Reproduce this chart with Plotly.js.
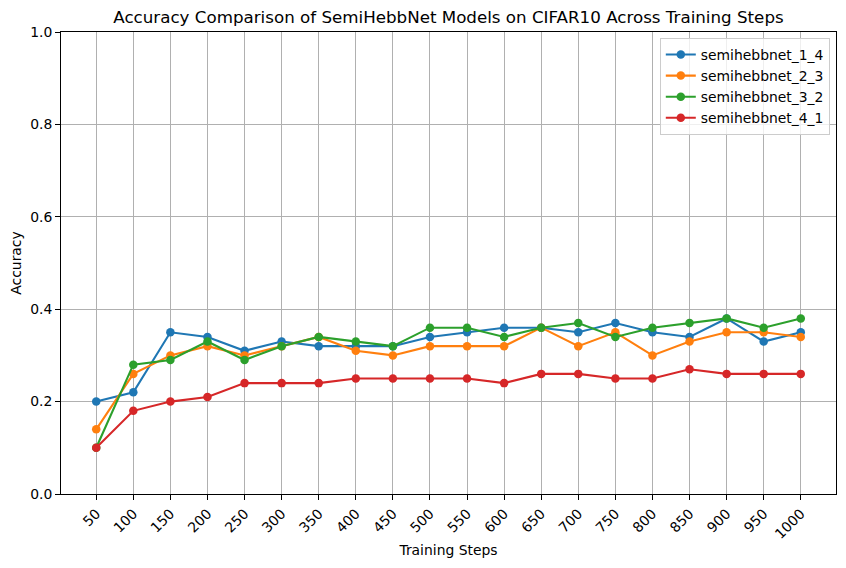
<!DOCTYPE html>
<html>
<head>
<meta charset="utf-8">
<script src="https://cdn.plot.ly/plotly-3.0.1.min.js"></script>
<style>html,body{margin:0;padding:0;background:#fff;}#chart{width:846px;height:568px;}</style>
</head>
<body>
<div id="chart"></div>
<script>
const steps = [50,100,150,200,250,300,350,400,450,500,550,600,650,700,750,800,850,900,950,1000];
const semihebbnet_1_4 = [0.20,0.22,0.35,0.34,0.31,0.33,0.32,0.32,0.32,0.34,0.35,0.36,0.36,0.35,0.37,0.35,0.34,0.38,0.33,0.35];
const semihebbnet_2_3 = [0.14,0.26,0.30,0.32,0.30,0.32,0.34,0.31,0.30,0.32,0.32,0.32,0.36,0.32,0.35,0.30,0.33,0.35,0.35,0.34];
const semihebbnet_3_2 = [0.10,0.28,0.29,0.33,0.29,0.32,0.34,0.33,0.32,0.36,0.36,0.34,0.36,0.37,0.34,0.36,0.37,0.38,0.36,0.38];
const semihebbnet_4_1 = [0.10,0.18,0.20,0.21,0.24,0.24,0.24,0.25,0.25,0.25,0.25,0.24,0.26,0.26,0.25,0.25,0.27,0.26,0.26,0.26];
const seriesNames = ['semihebbnet_1_4','semihebbnet_2_3','semihebbnet_3_2','semihebbnet_4_1'];
const seriesValues = [semihebbnet_1_4, semihebbnet_2_3, semihebbnet_3_2, semihebbnet_4_1];
const colors = ['#1f77b4','#ff7f0e','#2ca02c','#d62728'];
const yTicks = [0,0.2,0.4,0.6,0.8,1.0];

const font = 'DejaVu Sans, sans-serif';
const traces = seriesNames.map((n,i)=>({
  x: steps, y: seriesValues[i], name: n, type: 'scatter', mode: 'lines+markers',
  line: {color: colors[i], width: 2.1},
  marker: {color: colors[i], size: 8.5}
}));

const layout = {
  width: 846, height: 568,
  margin: {l: 61, r: 10, t: 32, b: 74},
  paper_bgcolor: '#fff', plot_bgcolor: '#fff',
  font: {family: font, size: 13.9, color: '#000'},
  title: {text: 'Accuracy Comparison of SemiHebbNet Models on CIFAR10 Across Training Steps',
          font: {family: font, size: 16.7, color: '#000'}, x: 0.5, xanchor: 'center', y: 1 - 17/568, yanchor: 'middle', xref: 'paper'},
  xaxis: {
    range: [2.5, 1047.5], tickmode: 'array', tickvals: steps, ticktext: steps.map(String),
    tickangle: -45, ticks: 'outside', ticklen: 5, tickcolor: '#000', tickwidth: 1,
    showgrid: true, gridcolor: '#b0b0b0', gridwidth: 1,
    showline: true, linecolor: '#000', linewidth: 1, mirror: true, zeroline: false,
    tickfont: {family: font, size: 13.9, color: '#000'},
    title: {text: 'Training Steps', font: {family: font, size: 13.9, color: '#000'}, standoff: 4}
  },
  yaxis: {
    range: [0, 1], tickmode: 'array', tickvals: yTicks, ticktext: yTicks.map(v=>v.toFixed(1)),
    ticks: 'outside', ticklen: 5, tickcolor: '#000', tickwidth: 1,
    showgrid: true, gridcolor: '#b0b0b0', gridwidth: 1,
    showline: true, linecolor: '#000', linewidth: 1, mirror: true, zeroline: false,
    tickfont: {family: font, size: 13.9, color: '#000'},
    title: {text: 'Accuracy', font: {family: font, size: 13.9, color: '#000'}, standoff: 5}
  },
  legend: {x: 0.992, y: 0.987, xanchor: 'right', yanchor: 'top',
    bgcolor: 'rgba(255,255,255,0.8)', bordercolor: '#cccccc', borderwidth: 1,
    font: {family: font, size: 13.9, color: '#000'}, tracegroupgap: 0, itemwidth: 30},
  showlegend: true
};
Plotly.newPlot('chart', traces, layout, {staticPlot: true, displayModeBar: false});
</script>
</body>
</html>
